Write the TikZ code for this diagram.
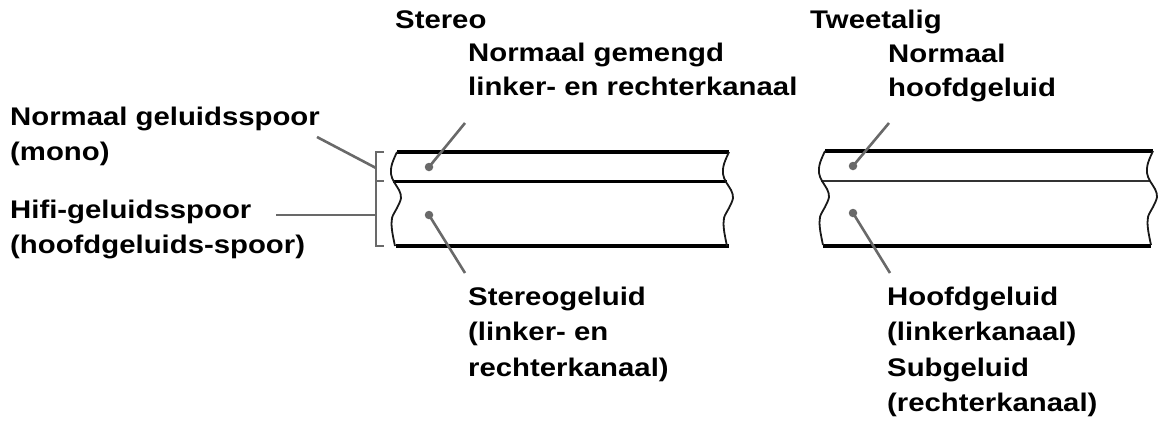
\documentclass[tikz,border=0pt]{standalone}
\usepackage{fontspec}
\setmainfont{Liberation Sans}[FakeStretch=1.15]
\definecolor{leadgray}{RGB}{105,105,105}
\newcommand{\topstrut}{\rule{0pt}{25pt}}
\tikzset{
  lab/.style={font=\fontsize{25.5}{35.5}\selectfont\bfseries, align=left, inner sep=0pt, anchor=north west},
  labtop/.style={lab, font=\fontsize{25.5}{34}\selectfont\bfseries},
  dotn/.style={circle, fill=leadgray, inner sep=0pt, minimum size=8.5pt},
  leader/.style={draw=leadgray, line width=2.6pt},
  brk/.style={draw=leadgray, line width=2.2pt},
  band/.style={line width=3.2pt, black},
  thinband/.style={line width=1.6pt, black!80},
  cut/.style={line width=1.8pt, black!90},
}
\newcommand{\cutedge}{plot[smooth, tension=0.6] coordinates {(0,0) (-5,12) (-6,22) (-3,30) (2,38) (4,46) (0,56) (-5,66) (-5,78) (-2,94)}}
\begin{document}
\begin{tikzpicture}[x=1pt,y=-1pt]
\useasboundingbox (0,0) rectangle (1162,432);
% labels (position = first baseline minus 25pt)
\node[labtop] (stereo) at (395,3) {\topstrut Stereo};
\node[labtop] (ng) at (468,36) {\topstrut Normaal gemengd\\linker- en rechterkanaal};
\node[labtop] (tw) at (810,3) {\topstrut Tweetalig};
\node[labtop] (nh) at (888,37) {\topstrut Normaal\\hoofdgeluid};
\node[lab] (ngs) at (10,100) {\topstrut Normaal geluidsspoor\\(mono)};
\node[lab] (hifi) at (10,193) {\topstrut Hifi-geluidsspoor\\(hoofdgeluids-spoor)};
\node[lab] (sg) at (468,280) {\topstrut Stereogeluid\\(linker- en\\rechterkanaal)};
\node[lab] (hg) at (887,280) {\topstrut Hoofdgeluid\\(linkerkanaal)\\Subgeluid\\(rechterkanaal)};
% left tape
\draw[band] (397,152) -- (729,152);
\draw[band] (393,181.5) -- (727,181.5);
\draw[band] (396,246) -- (729,246);
\draw[cut, shift={(397,152)}] \cutedge;
\draw[cut, shift={(729,152)}] \cutedge;
% right tape
\draw[band] (825,151) -- (1153,151);
\draw[thinband] (821,181) -- (1150,181);
\draw[band] (823,246) -- (1151,246);
\draw[cut, shift={(825,151)}] \cutedge;
\draw[cut, shift={(1153,151)}] \cutedge;
% bracket
\draw[brk] (384,152) -- (376,152) -- (376,246) -- (384,246);
\draw[brk] (376,181) -- (384,181);
\coordinate (bA) at (376,168);
\coordinate (bB) at (376,215);
\coordinate (mA) at (317,137);
\coordinate (hA) at (276,215);
\draw[leader] (mA) -- (bA);
\draw[leader] (hA) -- (bB);
% dots and leaders
\node[dotn] (d1) at (429,167) {};
\node[dotn] (d2) at (429,215) {};
\node[dotn] (d3) at (853,166) {};
\node[dotn] (d4) at (853,213) {};
\coordinate (e1) at (465,123);
\coordinate (e2) at (465,273);
\coordinate (e3) at (889,123);
\coordinate (e4) at (890,273);
\draw[leader] (d1.center) -- (e1);
\draw[leader] (d2.center) -- (e2);
\draw[leader] (d3.center) -- (e3);
\draw[leader] (d4.center) -- (e4);
\end{tikzpicture}
\end{document}
